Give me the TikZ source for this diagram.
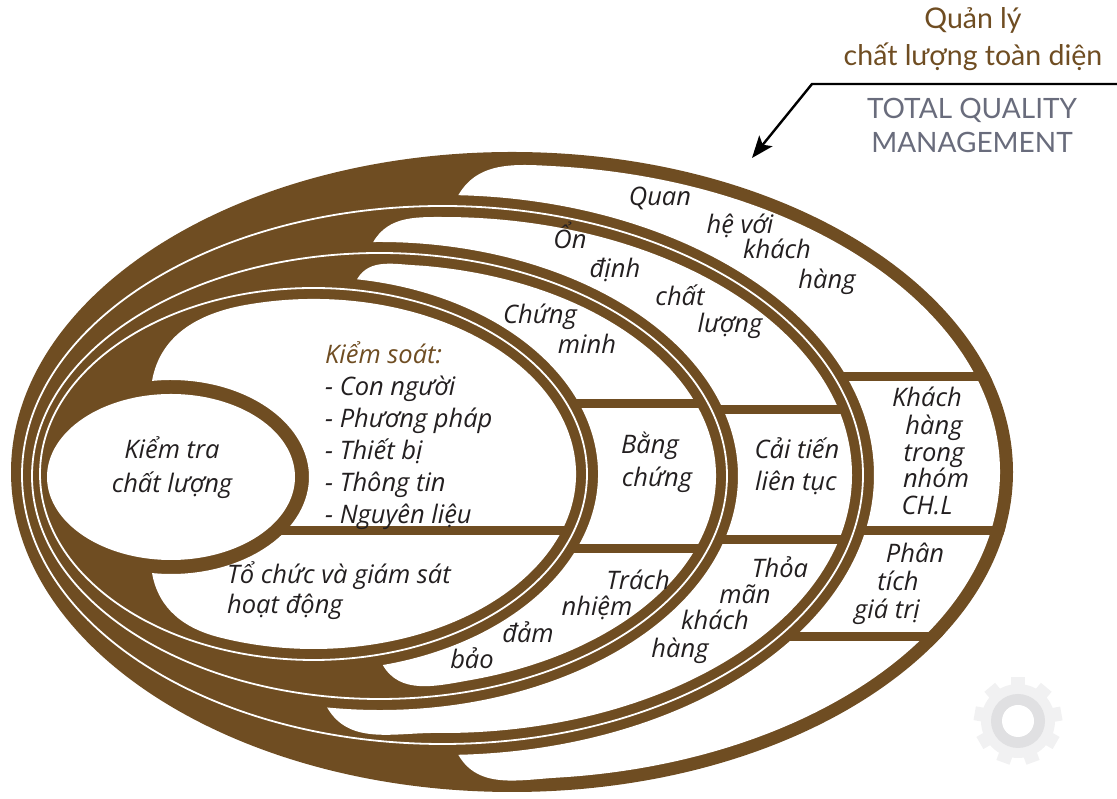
\documentclass[tikz,border=0pt]{standalone}
\usepackage{fontspec}
\setmainfont{Open Sans}
\newfontfamily\headfont{Lato}
\usepackage{tikz}
\usetikzlibrary{arrows.meta,calc,positioning}
\definecolor{umber}{RGB}{111,77,34}
\definecolor{ink}{RGB}{35,31,32}
\definecolor{slate}{RGB}{105,108,124}
\definecolor{gearlight}{RGB}{241,241,242}
\definecolor{geardark}{RGB}{224,224,226}
\tikzstyle{word} =
[
	text=ink, inner sep=0pt, align=center,
	font=\fontsize{25.5}{32}\selectfont\itshape,
	text height=18pt, text depth=6pt
]
\tikzstyle{head} =
[
	inner sep=0pt, align=center,
	font=\headfont\fontsize{28.5}{37}\selectfont
]
\tikzstyle{bar}  = [draw=umber, line width=9pt]
\tikzstyle{hair} = [draw=white, line width=1.8pt]
\tikzstyle{lobe} = [fill=white]

\begin{document}
\begin{tikzpicture}[x=1pt,y=1pt]
\useasboundingbox (0,0) rectangle (1117,799);

% centres of the rings
\coordinate (oE) at (512,327);
\coordinate (o1) at (442.5,324);
\coordinate (o2) at (379.5,323);
\coordinate (o3) at (313.5,325);
\coordinate (oK) at (171,322);
\coordinate (g)  at (1018,78);

% gear in the back
\foreach \a in {0,40,...,320}
	\fill[gearlight,rotate around={\a:(g)}] ($(g)+(-7,0)$) rectangle ($(g)+(7,44)$);
\fill[gearlight] (g) circle[radius=37];
\fill[geardark] (g) circle[radius=27];
\fill[white] (g) circle[radius=16];

% brown body
\fill[umber] (oE) ellipse[x radius=501, y radius=320];

% ring 1
\fill[lobe] ($(o1)+(87.9:431.5 and 280)$)
	to[out=60,in=177] ($(oE)+(84.4:488 and 307)$)
	arc[start angle=84.4, end angle=-84.4, x radius=488, y radius=307]
	to[out=183,in=-60] ($(o1)+(-87.9:431.5 and 280)$)
	arc[start angle=-87.9, end angle=87.9, x radius=431.5, y radius=280] -- cycle;
% ring 2
\fill[lobe] ($(o2)+(91:358.5 and 234)$)
	to[out=60,in=180] ($(o1)+(89:409.5 and 258)$)
	arc[start angle=89, end angle=-91, x radius=409.5, y radius=258]
	to[out=180,in=-60] ($(o2)+(-98.4:358.5 and 234)$)
	arc[start angle=-98.4, end angle=91, x radius=358.5, y radius=234] -- cycle;
% ring 3
\fill[lobe] ($(o3)+(81.2:284.5 and 197)$)
	to[out=60,in=178] ($(o2)+(83:336.5 and 212)$)
	arc[start angle=83, end angle=-74.4, x radius=336.5, y radius=212]
	to[out=190,in=-60] ($(o3)+(-75.9:284.5 and 197)$)
	arc[start angle=-75.9, end angle=81.2, x radius=284.5, y radius=197] -- cycle;
% ring 4
\fill[lobe] ($(oK)+(97.9:138 and 97)$)
	to[out=80,in=189] ($(o3)+(104:262.5 and 175)$)
	arc[start angle=104, end angle=-110.9, x radius=262.5, y radius=175]
	to[out=166,in=-80] ($(oK)+(-97.9:138 and 97)$)
	arc[start angle=-97.9, end angle=97.9, x radius=138, y radius=97] -- cycle;

% cross bars
\begin{scope}
\clip (oE) ellipse[x radius=501, y radius=320];
\draw[bar] (270,268) -- (575,268);
\draw[bar] (567,395) -- (708,395);
\draw[bar] (564,250) -- (708,250);
\draw[bar] (711,389) -- (850,389);
\draw[bar] (712,259) -- (850,259);
\draw[bar] (834,422) -- (995,422);
\draw[bar] (854,268) -- (1010,268);
\draw[bar] (778,162) -- (945,162);
\end{scope}

% thin white lines
\draw[hair] (o1) ellipse[x radius=420.5, y radius=269];
\draw[hair] (o2) ellipse[x radius=347.5, y radius=223];
\draw[hair] (o3) ellipse[x radius=273.5, y radius=186];

% inspection core
\fill[white] (oK) ellipse[x radius=124, y radius=83];

% labels
\node[word] (K1) at (172,346) {Kiểm tra};
\node[word] (K2) at (172,312) {chất lượng};

\node[word, anchor=north west, align=left, font=\fontsize{25.5}{32}\selectfont\itshape,
	text height=, text depth=] (KS) at (325,458)
	{\textcolor{umber}{Kiểm soát:}\\- Con người\\- Phương pháp\\- Thiết bị\\- Thông tin\\- Nguyên liệu};

\node[word, anchor=west] (T1) at (227,221) {Tổ chức và giám sát};
\node[word, anchor=west] (T2) at (227,191) {hoạt động};

\node[word] (C1) at (540,481) {Chứng};
\node[word] (C2) at (587,451) {minh};
\node[word] (B1) at (650,351) {Bằng};
\node[word] (B2) at (657,318) {chứng};
\node[word] (R1) at (638,215) {Trách};
\node[word] (R2) at (597,189) {nhiệm};
\node[word] (R3) at (528,162) {đảm};
\node[word] (R4) at (472,136) {bảo};

\node[word] (O1) at (570,556) {\symbol{"1ED4}n};
\node[word] (O2) at (615,527) {định};
\node[word] (O3) at (680,499) {chất};
\node[word] (O4) at (730,472) {lượng};
\node[word] (L1) at (797,346) {Cải tiến};
\node[word] (L2) at (796,314) {liên tục};
\node[word] (S1) at (780,227) {Thỏa};
\node[word] (S2) at (745,201) {mãn};
\node[word] (S3) at (715,175) {khách};
\node[word] (S4) at (680,147) {hàng};

\node[word] (Q1) at (660,599) {Quan};
\node[word] (Q2) at (740,571) {hệ với};
\node[word] (Q3) at (777,546) {khách};
\node[word] (Q4) at (827,516) {hàng};
\node[word] (N1) at (927,398) {Khách};
\node[word] (N2) at (934,370) {hàng};
\node[word] (N3) at (934,343) {trong};
\node[word] (N4) at (936,317) {nhóm};
\node[word] (N5) at (927,290) {CH.L};
\node[word] (P1) at (915,242) {Phân};
\node[word] (P2) at (898,214) {tích};
\node[word] (P3) at (887,186) {giá trị};

% title and pointer
\node[head, text=umber] (VN) at (973,760) {Quản lý\\chất lượng toàn diện};
\node[head, text=slate, font=\headfont\fontsize{28}{34}\selectfont] (EN) at (972,674) {TOTAL QUALITY\\MANAGEMENT};
\coordinate (hA) at (1117,715);
\coordinate (hB) at (812,715);
\coordinate (hC) at (752,641);
\draw[line width=2.4pt, -{Stealth[length=22pt, width=17pt, inset=5pt]}] (hA) -- (hB) -- (hC);

\end{tikzpicture}
\end{document}
